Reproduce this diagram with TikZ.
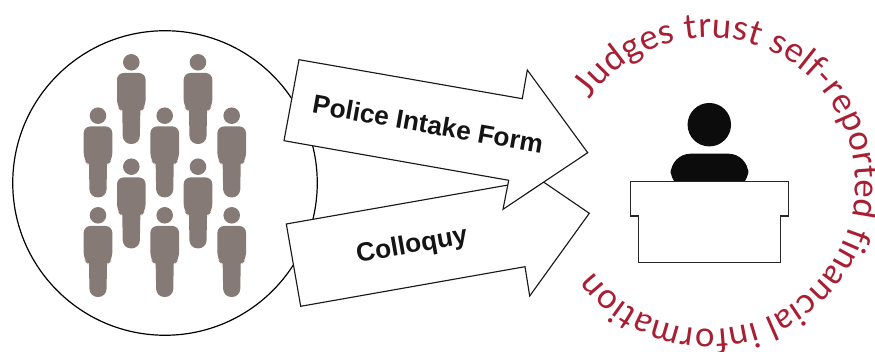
\documentclass[tikz,border=0pt]{standalone}
\usepackage{fontspec}
\setmainfont{Liberation Sans}
\newfontfamily\curvefont{Lato}
\usetikzlibrary{decorations.text}
\definecolor{figgrey}{HTML}{857A76}
\definecolor{crim}{HTML}{A91E32}
\definecolor{nearblack}{HTML}{0C0C0C}
\tikzset{
  x=.75pt,y=-.75pt,
  outline/.style={draw=black!90,line width=.85pt,fill=white,line join=miter},
  arrowlabel/.style={font=\bfseries\fontsize{19.7}{21}\selectfont,text=black!92,inner sep=0pt},
  crowdman/.pic={
    \fill[figgrey] (0,0) circle[radius=6.2pt];
    \fill[figgrey,rounded corners=5pt] (-14.3,10.7) -- (-14.3,44) -- (-9.2,50) -- (9.2,50) -- (14.3,44) -- (14.3,10.7) -- cycle;
    \fill[figgrey,rounded corners=6pt] (-9.2,40) -- (-8.4,81.7) -- (8.4,81.7) -- (9.2,40) -- cycle;
  }
}
\begin{document}
\begin{tikzpicture}
\useasboundingbox (0,0) rectangle (875,352);
% crowd circle
\draw[black,line width=.9pt,fill=white] (165,183) circle[radius=114.2pt];
\foreach \px/\py in {131.3/62.3,198/62.3,98/115.7,164.7/115.7,231.7/115.7,131.3/166.7,198/166.7,98/215.3,164.7/215.3,231.7/215.3}
  \pic at (\px,\py) {crowdman};
% arrows
\draw[outline] (286.3,224) -- (510.5,184.6) -- (505,155.7) -- (589.3,213.3) -- (529.7,296) -- (525,266.7) -- (300.7,306.3) -- cycle;
\draw[outline] (299,59.7) -- (522.3,98.7) -- (527.3,70) -- (587.7,152.7) -- (503,209.3) -- (508.7,180.3) -- (284,140.7) -- cycle;
\node[arrowlabel,rotate=-10] (intake) at (428,124) {Police Intake Form};
\node[arrowlabel,rotate=10] (colloquy) at (412,246) {Colloquy};
% judge
\fill[nearblack] (709.3,124.7) circle[radius=16.3pt];
\fill[nearblack,rounded corners=15pt] (670.7,190) -- (670.7,153.7) -- (748.3,153.7) -- (748.3,190) -- cycle;
\draw[draw=black!85,line width=1pt,fill=white] (630.3,181.7) -- (788.3,181.7) -- (788.3,216) -- (780.3,216) -- (780.3,262.3) -- (638.3,262.3) -- (638.3,216) -- (630.3,216) -- cycle;
% curved caption
\coordinate (hub) at (709.5,183.5);
\path[decorate,decoration={text along path,text align=fit to path,
  text={|\curvefont\fontsize{26}{28}\selectfont\color{crim}|Judges trust self-reported financial information}}]
  (hub) ++(145:109.5pt) arc[start angle=145,end angle=-143,radius=109.5pt];
\end{tikzpicture}
\end{document}
